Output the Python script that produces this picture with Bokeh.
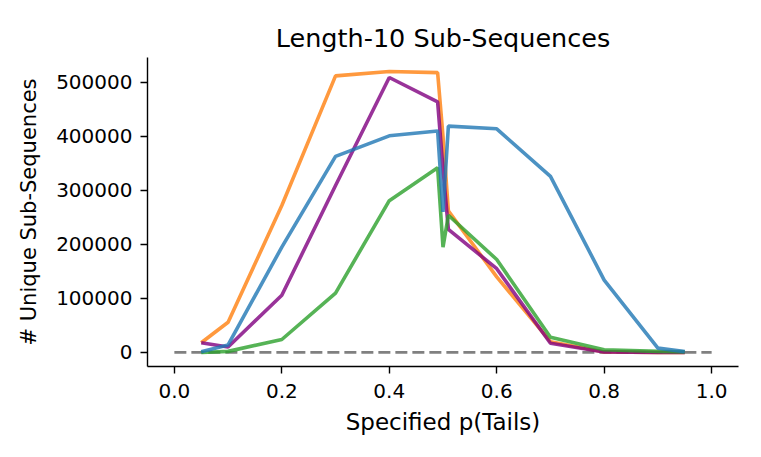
from bokeh.plotting import figure
from bokeh.models import Range1d, FixedTicker, PrintfTickFormatter
from bokeh.embed import file_html
from bokeh.resources import INLINE

p_tails = [0.05, 0.1, 0.2, 0.3, 0.4, 0.49, 0.5, 0.51, 0.6, 0.7, 0.8, 0.9, 0.95]
orange_vals = [18000, 56000, 272000, 512000, 520000, 518000, 400000, 262000, 140000, 20000, 1000, 0, 0]
purple_vals = [18000, 10000, 106000, 309000, 509000, 464000, 340000, 228000, 155000, 17000, 1000, 0, 0]
green_vals = [0, 2000, 24000, 110000, 281000, 342000, 195000, 254000, 172000, 28000, 5000, 2000, 1000]
blue_vals = [1500, 14000, 195000, 363000, 401000, 410000, 260000, 419000, 414000, 326000, 134000, 8000, 1500]
baseline_x = [0.0, 1.0]
baseline_y = [0, 0]

x_ticks = [0.0, 0.2, 0.4, 0.6, 0.8, 1.0]
y_ticks = [0, 100000, 200000, 300000, 400000, 500000]

FONT = "DejaVu Sans"

p = figure(width=753, height=449, output_backend="svg", toolbar_location=None,
           x_range=Range1d(-0.05, 1.05), y_range=Range1d(-26000, 546000),
           title="Length-10 Sub-Sequences",
           min_border_left=147, min_border_right=15, min_border_top=57, min_border_bottom=83)

p.title.text_font = FONT
p.title.text_font_size = "25.5px"
p.title.text_font_style = "normal"
p.title.align = "center"
p.title.text_color = "black"

p.outline_line_color = None
p.grid.visible = False
p.background_fill_color = "white"
p.border_fill_color = "white"

p.line(baseline_x, baseline_y, line_color="gray", line_width=2.8, line_dash="12 5")

for vals, col in [(orange_vals, "#ff7f0e"), (purple_vals, "purple"),
                  (green_vals, "#2ca02c"), (blue_vals, "#1f77b4")]:
    p.line(p_tails, vals, line_color=col, line_width=3.6, line_alpha=0.8)

p.xaxis.ticker = FixedTicker(ticks=x_ticks)
p.xaxis.formatter = PrintfTickFormatter(format="%.1f")
p.yaxis.ticker = FixedTicker(ticks=y_ticks)
p.yaxis.formatter = PrintfTickFormatter(format="%d")

p.xaxis.axis_label = "Specified p(Tails)"
p.yaxis.axis_label = "# Unique Sub-Sequences"

for ax in (p.xaxis, p.yaxis):
    ax.axis_line_color = "black"
    ax.axis_line_width = 1.4
    ax.major_tick_line_color = "black"
    ax.major_tick_line_width = 1.4
    ax.major_tick_out = 7
    ax.major_tick_in = 0
    ax.minor_tick_line_color = None
    ax.major_label_text_font = FONT
    ax.major_label_text_font_size = "20px"
    ax.major_label_text_color = "black"
    ax.axis_label_text_font = FONT
    ax.axis_label_text_font_style = "normal"
    ax.axis_label_text_color = "black"

p.xaxis.axis_label_text_font_size = "23px"
p.yaxis.axis_label_text_font_size = "21px"
p.xaxis.major_label_standoff = 10
p.yaxis.major_label_standoff = 8
p.xaxis.axis_label_standoff = 8
p.yaxis.axis_label_standoff = 12

open("out.html", "w").write(file_html(p, INLINE))
